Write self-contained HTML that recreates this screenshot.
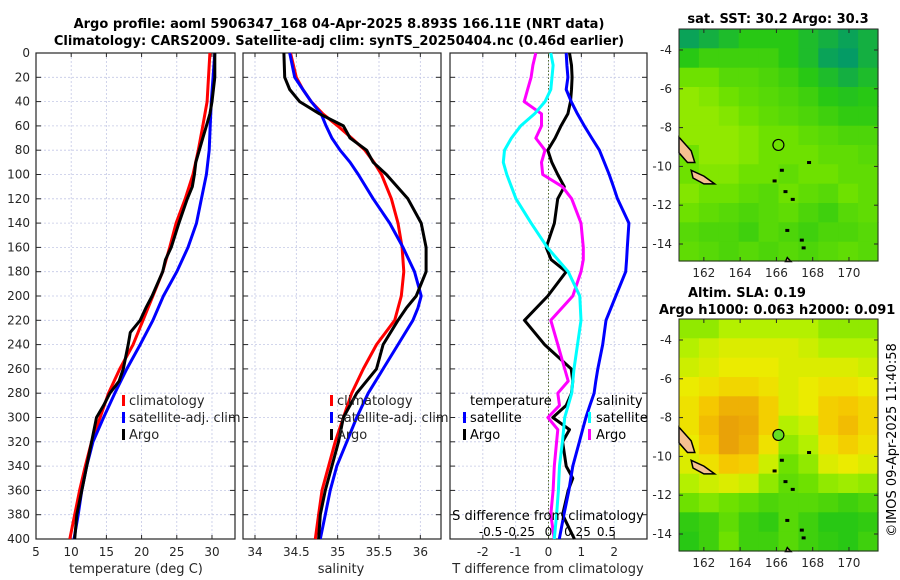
<!DOCTYPE html>
<html><head><meta charset="utf-8"><style>
html,body{margin:0;padding:0;background:#fff;}
svg{display:block;font-family:"DejaVu Sans","Liberation Sans",sans-serif;}
</style></head><body>
<svg id="fig" width="900" height="580" viewBox="0 0 900 580">
<text x="339" y="28" font-size="13" font-weight="bold" text-anchor="middle">Argo profile: aoml 5906347_168 04-Apr-2025 8.893S 166.11E (NRT data)</text>
<text x="339" y="45" font-size="13" font-weight="bold" text-anchor="middle">Climatology: CARS2009. Satellite-adj clim: synTS_20250404.nc (0.46d earlier)</text>
<g id="g"></g>
</svg>
<script>
// ---------- data ----------
const tDepth   = [0,40,60,80,100,120,140,160,180,200,220,240,260,280,300,320,340,360,380,400];
const tClim    = [29.7,29.3,28.7,28.05,27.3,26.2,24.9,24.0,23.0,21.6,20.2,18.8,16.9,15.3,14.1,12.9,12.0,11.2,10.5,9.8];
const tSat     = [30.4,29.9,29.75,29.6,29.2,28.5,27.8,26.6,25.0,23.1,21.6,19.8,17.9,16.2,14.6,13.1,12.2,11.5,11.0,10.4];
const argoDepth= [0,20,40,50,60,70,80,90,100,110,120,140,160,170,180,200,210,220,230,240,260,270,280,290,300,320,340,360,380,400];
const tArgo    = [30.4,30.4,30.0,29.7,29.2,28.7,28.2,27.7,27.5,27.2,26.5,25.3,24.2,23.4,23.0,21.5,20.6,19.8,18.4,18.1,17.4,16.8,15.5,14.6,13.6,12.9,12.2,11.5,10.8,10.5];
const sDepth   = [0,20,30,40,50,60,70,80,90,100,120,140,160,180,200,210,220,240,260,280,300,320,340,360,380,400];
const sClim    = [34.43,34.50,34.58,34.68,34.82,35.0,35.17,35.33,35.44,35.53,35.65,35.73,35.78,35.80,35.77,35.73,35.69,35.47,35.31,35.17,35.07,34.97,34.89,34.81,34.77,34.73];
const sSat     = [34.42,34.48,34.58,34.68,34.80,34.86,34.93,35.03,35.15,35.25,35.43,35.63,35.79,35.93,36.01,35.97,35.91,35.73,35.55,35.37,35.23,35.11,34.99,34.91,34.85,34.79];
const sArgo    = [34.35,34.36,34.42,34.54,34.78,35.07,35.15,35.35,35.43,35.59,35.85,36.01,36.07,36.07,35.95,35.83,35.73,35.55,35.47,35.23,35.07,35.01,34.93,34.85,34.79,34.77];
const dDepth   = [0,10,20,30,40,50,60,70,80,90,100,110,120,140,160,170,180,200,220,240,260,270,280,290,300,310,320,340,350,360,380,400];
const dtArgo   = [0.64,0.7,0.72,0.7,0.67,0.59,0.38,0.2,-0.02,0.1,0.28,0.48,0.28,0.18,-0.07,0.08,0.54,-0.02,-0.73,-0.12,0.69,0.74,0.7,0.54,0.13,0.64,0.43,0.54,0.74,0.6,0.43,0.79];
const dtSat    = [0.54,0.56,0.59,0.54,0.69,0.88,1.09,1.32,1.55,1.7,1.85,1.98,2.1,2.45,2.4,2.38,2.35,2.05,1.75,1.65,1.5,1.44,1.39,1.26,1.14,1.04,0.94,0.74,0.68,0.62,0.47,0.33];
const dsSat    = [0.02,0.04,0.03,0.02,-0.03,-0.12,-0.24,-0.32,-0.38,-0.39,-0.36,-0.32,-0.28,-0.15,-0.01,0.08,0.17,0.27,0.28,0.25,0.22,0.21,0.2,0.17,0.14,0.13,0.12,0.095,0.09,0.085,0.07,0.05];
const dsArgo   = [-0.11,-0.135,-0.15,-0.18,-0.21,-0.06,-0.06,-0.11,-0.03,-0.06,-0.05,0.12,0.2,0.28,0.3,0.3,0.28,0.21,0.02,0.08,0.14,0.17,0.08,0.095,-0.005,0.08,0.07,0.05,0.045,0.04,0.02,0.05];
const tTicks = [5,10,15,20,25,30];
const sTicks = [34,34.5,35,35.5,36];
const dTTicks = [-2,-1,0,1,2];
const dSTicks = [-0.5,-0.25,0,0.25,0.5];
const depthTicks = [0,20,40,60,80,100,120,140,160,180,200,220,240,260,280,300,320,340,360,380,400];
const lonTicks = [162,164,166,168,170];
const latTicks = [-4,-6,-8,-10,-12,-14];
const sstGrid = [
[0.15,0.2,0.25,0.3,0.3,0.3,0.25,0.2,0.15,0.2],
[0.3,0.35,0.35,0.35,0.35,0.3,0.25,0.15,0.12,0.2],
[0.45,0.45,0.4,0.4,0.38,0.35,0.3,0.25,0.2,0.25],
[0.5,0.48,0.45,0.42,0.4,0.38,0.35,0.3,0.28,0.3],
[0.5,0.5,0.48,0.45,0.42,0.4,0.38,0.35,0.32,0.32],
[0.5,0.5,0.5,0.48,0.45,0.45,0.42,0.4,0.38,0.38],
[0.45,0.5,0.5,0.48,0.45,0.45,0.45,0.42,0.42,0.4],
[0.45,0.48,0.48,0.45,0.45,0.42,0.45,0.45,0.42,0.42],
[0.48,0.45,0.45,0.42,0.4,0.45,0.42,0.4,0.45,0.42],
[0.45,0.42,0.4,0.38,0.4,0.42,0.38,0.35,0.4,0.42],
[0.4,0.38,0.38,0.35,0.4,0.38,0.35,0.38,0.38,0.4],
[0.42,0.4,0.38,0.4,0.38,0.4,0.38,0.4,0.42,0.4]];
const slaGrid = [
[0.5,0.5,0.55,0.55,0.55,0.55,0.55,0.5,0.5,0.5],
[0.55,0.58,0.6,0.6,0.6,0.6,0.58,0.55,0.55,0.55],
[0.58,0.6,0.62,0.62,0.62,0.6,0.6,0.6,0.6,0.58],
[0.62,0.65,0.68,0.68,0.65,0.6,0.62,0.65,0.65,0.62],
[0.65,0.72,0.78,0.78,0.7,0.6,0.62,0.7,0.72,0.68],
[0.65,0.75,0.82,0.8,0.7,0.55,0.58,0.7,0.75,0.68],
[0.62,0.72,0.82,0.78,0.65,0.5,0.55,0.65,0.7,0.65],
[0.6,0.65,0.72,0.7,0.58,0.45,0.5,0.6,0.62,0.6],
[0.55,0.58,0.6,0.58,0.5,0.42,0.45,0.5,0.52,0.5],
[0.45,0.48,0.45,0.42,0.38,0.4,0.4,0.38,0.35,0.38],
[0.32,0.35,0.42,0.35,0.32,0.4,0.35,0.3,0.3,0.32],
[0.3,0.35,0.45,0.35,0.35,0.4,0.35,0.32,0.3,0.35]];
const argoLon = 166.11, argoLat = -8.893;

// ---------- helpers ----------
const NS="http://www.w3.org/2000/svg";
const G=document.getElementById('g');
function mk(tag,attrs,parent){const e=document.createElementNS(NS,tag);for(const k in attrs)e.setAttribute(k,attrs[k]);(parent||G).appendChild(e);return e;}
function txt(s,x,y,size,anchor,name,extra){const e=mk('text',Object.assign({x:x,y:y,'font-size':size,'text-anchor':anchor||'middle',fill:'#262626'},extra||{}));e.textContent=s;


return e;}
const TOP=53,BOT=539;
const yD=d=>TOP+(BOT-TOP)*d/400;
function panel(name,L,R,xmin,xmax,ticks,fmt,showY){
  const sx=v=>L+(R-L)*(v-xmin)/(xmax-xmin);
  for(const d of depthTicks){ if(d>0&&d<400){const l=mk('line',{x1:L,x2:R,y1:yD(d),y2:yD(d),stroke:'#c4c8e6','stroke-width':0.8,'stroke-dasharray':'2,2'});
    
    }}
  for(const t of ticks){const x=sx(t);
    const l=mk('line',{x1:x,x2:x,y1:TOP,y2:BOT,stroke:'#c4c8e6','stroke-width':0.8,'stroke-dasharray':'2,2'});
    
    
    mk('line',{x1:x,x2:x,y1:BOT,y2:BOT-4,stroke:'#262626'});mk('line',{x1:x,x2:x,y1:TOP,y2:TOP+4,stroke:'#262626'});
    if(fmt) txt(fmt(t),x,556,12,'middle',name+'-x-tick-label');}
  for(const d of depthTicks){const y=yD(d);
    mk('line',{x1:L,x2:L+5,y1:y,y2:y,stroke:'#262626'});mk('line',{x1:R-5,x2:R,y1:y,y2:y,stroke:'#262626'});
    if(showY) txt(String(d),30,y+4,12,'end','depth-tick-label');}
  const f=mk('rect',{x:L,y:TOP,width:R-L,height:BOT-TOP,fill:'none',stroke:'#262626','stroke-width':1.2});
  
  
  return sx;}
function line(sx,xs,ds,color,name,w){
  const p=xs.map((v,i)=>(i?'L':'M')+sx(v).toFixed(1)+','+yD(ds[i]).toFixed(1)).join('');
  const e=mk('path',{d:p,fill:'none',stroke:color,'stroke-width':w||3,'stroke-linejoin':'round'});
  
  }
function legendMark(x,y,color){mk('rect',{x:x,y:y-10,width:3,height:11,fill:color});}

// ---------- panel 1 ----------
const sx1=panel('temperature-panel',36,235,5,33.27,tTicks,v=>String(v),true);
line(sx1,tClim,tDepth,'#ff0000','temp-climatology-line');
line(sx1,tSat,tDepth,'#0000ff','temp-satellite-line');
line(sx1,tArgo,argoDepth,'#000000','temp-argo-line');
txt('temperature (deg C)',136,573,13,'middle','temperature-axis-title');
legendMark(122,405,'#ff0000');txt('climatology',129,405,13,'start','legend-climatology');
legendMark(122,422,'#0000ff');txt('satellite-adj. clim',129,422,13,'start','legend-satellite-adj');
legendMark(122,439,'#000000');txt('Argo',129,439,13,'start','legend-argo');

// ---------- panel 2 ----------
const sx2=panel('salinity-panel',243,441,33.855,36.25,sTicks,v=>String(v),false);
line(sx2,sClim,sDepth,'#ff0000','sal-climatology-line');
line(sx2,sSat,sDepth,'#0000ff','sal-satellite-line');
line(sx2,sArgo,sDepth,'#000000','sal-argo-line');
txt('salinity',341,573,13,'middle','salinity-axis-title');
legendMark(330,405,'#ff0000');txt('climatology',337,405,13,'start','legend-climatology-2');
legendMark(330,422,'#0000ff');txt('satellite-adj. clim',337,422,13,'start','legend-satellite-adj-2');
legendMark(330,439,'#000000');txt('Argo',337,439,13,'start','legend-argo-2');

// ---------- panel 3 ----------
const sx3=panel('difference-panel',450,647,-3,3,dTTicks,v=>String(v),false);
const zl=mk('line',{x1:sx3(0),x2:sx3(0),y1:TOP,y2:BOT,stroke:'#556b2f','stroke-width':1,'stroke-dasharray':'1.5,2'});


const sxS=v=>sx3(v*3.53);
line(sx3,dtArgo,dDepth,'#000000','tdiff-argo-line');
line(sxS,dsArgo,dDepth,'#ff00ff','sdiff-argo-line');
line(sxS,dsSat,dDepth,'#00ffff','sdiff-satellite-line');
line(sx3,dtSat,dDepth,'#0000ff','tdiff-satellite-line');
txt('temperature',470,405,13,'start','legend-temperature-header',{fill:'#000'});
legendMark(463,422,'#0000ff');txt('satellite',470,422,13,'start','legend-t-satellite',{fill:'#000'});
legendMark(463,439,'#000000');txt('Argo',470,439,13,'start','legend-t-argo',{fill:'#000'});
txt('salinity',596,405,13,'start','legend-salinity-header',{fill:'#000'});
legendMark(588,422,'#00ffff');txt('satellite',596,422,13,'start','legend-s-satellite',{fill:'#000'});
legendMark(588,439,'#ff00ff');txt('Argo',596,439,13,'start','legend-s-argo',{fill:'#000'});
txt('S difference from climatology',548,520,13,'middle','s-diff-axis-title',{fill:'#000'});
for(const v of dSTicks) txt(String(v),sxS(v),536,12,'middle','s-diff-tick-label',{fill:'#000'});
txt('T difference from climatology',548,573,13,'middle','t-diff-axis-title');

// ---------- maps ----------
function cmap(v){
  const stops=[[0.1,[0,150,110]],[0.3,[40,200,20]],[0.45,[110,225,0]],[0.55,[180,240,0]],[0.62,[235,235,0]],[0.72,[245,200,0]],[0.85,[230,150,10]]];
  if(v<=stops[0][0])return 'rgb('+stops[0][1]+')';
  for(let i=1;i<stops.length;i++){if(v<=stops[i][0]){const a=stops[i-1],b=stops[i],t=(v-a[0])/(b[0]-a[0]);
    return 'rgb('+a[1].map((c,k)=>Math.round(c+(b[1][k]-c)*t)).join(',')+')';}}
  return 'rgb('+stops[stops.length-1][1]+')';}
function map(name,top,bottom,grid,fillMarker){
  const L=679,R=878,lon0=160.63,lon1=171.6;
  const yLat4=top+(bottom-top)*(21/232), yLat14=top+(bottom-top)*(215/232);
  const sx=lo=>L+(R-L)*(lo-lon0)/(lon1-lon0);
  const sy=la=>yLat4+(yLat14-yLat4)*(la+4)/(-10);
  const nr=grid.length,nc=grid[0].length;
  const cw=(R-L)/nc,ch=(bottom-top)/nr;
  for(let r=0;r<nr;r++)for(let c=0;c<nc;c++){
    const e=mk('rect',{x:(L+c*cw).toFixed(1),y:(top+r*ch).toFixed(1),width:(cw+0.6).toFixed(1),height:(ch+0.6).toFixed(1),fill:cmap(grid[r][c])});
    
    }
  const isl=[[[160.63,-8.5],[161.3,-9.2],[161.5,-9.8],[161.1,-9.8],[160.63,-9.3]],
             [[161.3,-10.2],[162.0,-10.5],[162.6,-10.9],[162.0,-10.9],[161.4,-10.6]],
             [[166.6,-14.7],[166.8,-14.9],[166.5,-14.9]]];
  for(const p of isl){const e=mk('polygon',{points:p.map(q=>sx(q[0]).toFixed(1)+','+sy(q[1]).toFixed(1)).join(' '),fill:'#f5c090',stroke:'#000','stroke-width':1.5});
    
    }
  const small=[[165.9,-10.75],[166.3,-10.2],[166.5,-11.3],[166.9,-11.7],[167.4,-13.8],[167.5,-14.2],[166.6,-13.3],[167.8,-9.8]];
  for(const s of small){const e=mk('rect',{x:sx(s[0])-2,y:sy(s[1])-1.5,width:4,height:3,fill:'#000'});
    
    }
  const m=mk('circle',{cx:sx(argoLon),cy:sy(argoLat),r:5.5,fill:fillMarker||'none',stroke:'#000','stroke-width':1.2});
  
  
  for(const lo of lonTicks){const x=sx(lo);mk('line',{x1:x,x2:x,y1:bottom,y2:bottom-4,stroke:'#262626'});mk('line',{x1:x,x2:x,y1:top,y2:top+4,stroke:'#262626'});
    txt(String(lo),x,bottom+16,12,'middle',name+'-lon-tick-label');}
  for(const la of latTicks){const y=sy(la);mk('line',{x1:L,x2:L+4,y1:y,y2:y,stroke:'#262626'});mk('line',{x1:R-4,x2:R,y1:y,y2:y,stroke:'#262626'});
    txt(String(la),672,y+4,12,'end',name+'-lat-tick-label');}
  const f=mk('rect',{x:L,y:top,width:R-L,height:bottom-top,fill:'none',stroke:'#262626','stroke-width':1});
  
  
}
map('sst-map',29,261,sstGrid,'none');
map('sla-map',319,551,slaGrid,'#66dd22');
txt('sat. SST: 30.2 Argo: 30.3',778,23,13,'middle','sst-map-title',{'font-weight':'bold',fill:'#000'});
txt('Altim. SLA: 0.19',688,297,13,'start','sla-map-title',{'font-weight':'bold',fill:'#000'});
txt('Argo h1000: 0.063 h2000: 0.091',659,314,13,'start','sla-map-subtitle',{'font-weight':'bold',fill:'#000'});
txt('©IMOS 09-Apr-2025 11:40:58',896,440,13,'middle','imos-timestamp',{transform:'rotate(-90 896 440)',fill:'#000'});
</script>
</body></html>
